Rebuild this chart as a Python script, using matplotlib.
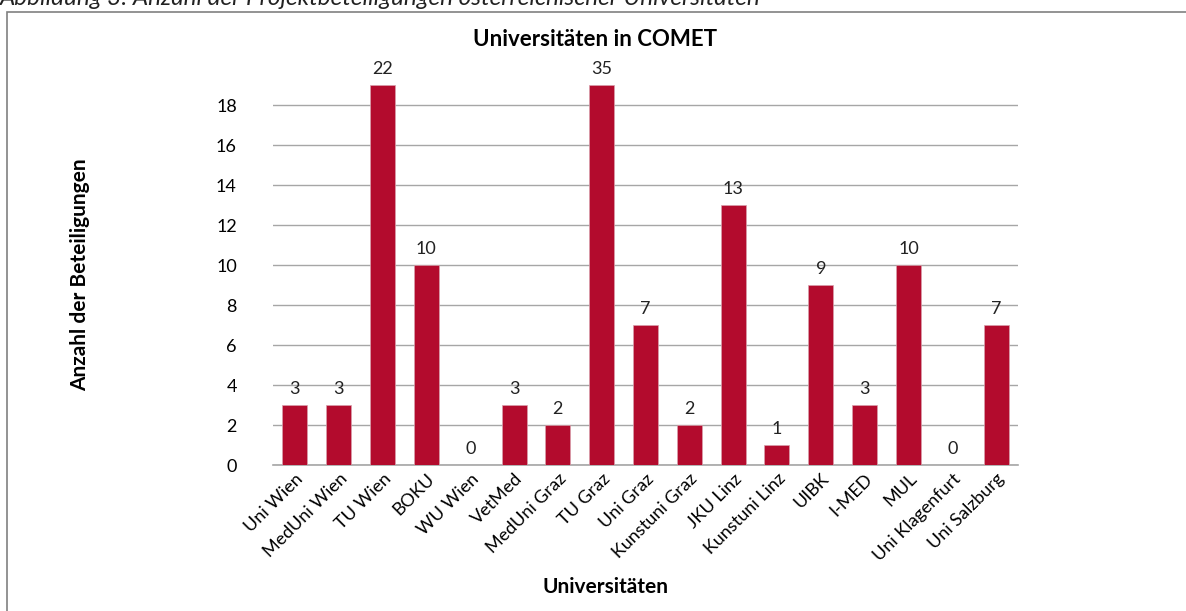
import matplotlib.pyplot as plt
from matplotlib.patches import Rectangle

universities = ["Uni Wien", "MedUni Wien", "TU Wien", "BOKU", "WU Wien", "VetMed",
                "MedUni Graz", "TU Graz", "Uni Graz", "Kunstuni Graz", "JKU Linz",
                "Kunstuni Linz", "UIBK", "I-MED", "MUL", "Uni Klagenfurt", "Uni Salzburg"]
counts = [3, 3, 22, 10, 0, 3, 2, 35, 7, 2, 13, 1, 9, 3, 10, 0, 7]
y_ticks = [0, 2, 4, 6, 8, 10, 12, 14, 16, 18]
y_max = 19  # axis is cut off here, taller bars are clipped

plt.rcParams["font.family"] = ["Lato", "DejaVu Sans"]
RED = "#b30b2d"

fig = plt.figure(figsize=(11.86, 6.11), dpi=100)
ax = fig.add_axes([273 / 1186, 146 / 611, 745 / 1186, 380 / 611])

x = list(range(len(universities)))
shown = [min(c, y_max) for c in counts]
ax.bar(x, shown, width=0.57, color=RED, edgecolor="#d9a0ac", linewidth=0.5, zorder=3)

for xi, h, c in zip(x, shown, counts):
    ax.annotate(str(c), (xi, h), xytext=(0, 6), textcoords="offset points",
                ha="center", va="bottom", fontsize=13, color="#222222")

ax.set_xlim(-0.5, len(universities) - 0.5)
ax.set_ylim(0, y_max)
ax.set_yticks(y_ticks)
ax.yaxis.grid(True, color="#a6a6a6", linewidth=1, zorder=0)
ax.tick_params(axis="y", length=0, labelsize=13, pad=26)
ax.tick_params(axis="x", length=0, labelsize=13, pad=4)
ax.set_xticks(x)
ax.set_xticklabels(universities, rotation=45, ha="right", rotation_mode="anchor")
for side in ["top", "right", "left"]:
    ax.spines[side].set_visible(False)
ax.spines["bottom"].set_color("#a6a6a6")
ax.spines["bottom"].set_linewidth(1.2)

fig.text(595 / 1186, 1 - 40 / 611, "Universitäten in COMET", ha="center", va="center",
         fontsize=16, fontweight="bold")
fig.text(80 / 1186, 1 - 275 / 611, "Anzahl der Beteiligungen", rotation=90,
         ha="center", va="center", fontsize=15, fontweight="bold")
fig.text(605 / 1186, 1 - 587 / 611, "Universitäten", ha="center", va="center",
         fontsize=15, fontweight="bold")
fig.text(0.0, 1 - 5 / 611, "Abbildung 3: Anzahl der Projektbeteiligungen österreichischer Universitäten",
         ha="left", va="baseline", fontsize=17.5, style="italic", color="#222222")

fig.patches.append(Rectangle((7 / 1186, -0.1), 1.2, 1 - 12 / 611 + 0.1,
                             transform=fig.transFigure, fill=False,
                             edgecolor="#808080", linewidth=1.2))

fig.savefig("out.png", dpi=100)
